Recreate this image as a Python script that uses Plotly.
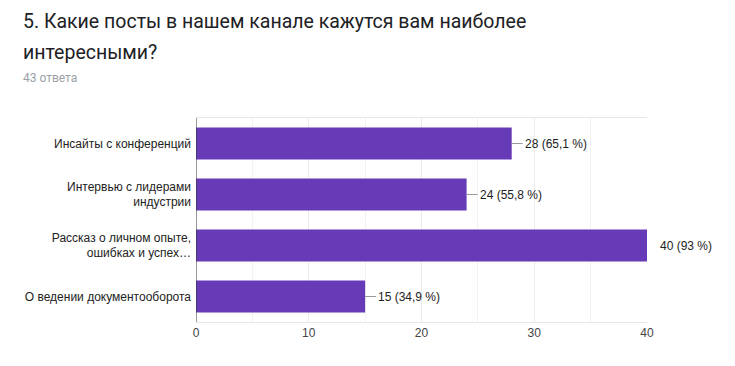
import plotly.graph_objects as go

categories = [
    "Инсайты с конференций",
    "Интервью с лидерами<br>индустрии",
    "Рассказ о личном опыте,<br>ошибках и успех…",
    "О ведении документооборота",
]
counts = [28, 24, 40, 15]
percents = ["65,1 %", "55,8 %", "93 %", "34,9 %"]
tick_vals = [0, 10, 20, 30, 40]
title_lines = ["5. Какие посты в нашем канале кажутся вам наиболее", "интересными?"]
subtitle = "43 ответа"

OFF = 8  # page body margin
W, H = 735 - OFF, 366 - OFF
L, R, T, B = 196 - OFF, 88, 118 - OFF, 44
pw, ph = W - L - R, H - T - B

def px_x(p):
    return (p - OFF - L) / pw

def px_y(p):
    return 1 - (p - OFF - T) / ph

fig = go.Figure()
fig.add_trace(go.Bar(
    x=counts, y=categories, orientation="h",
    marker=dict(color="#673ab7", line=dict(width=0)),
    hoverinfo="skip",
))

xmax = 40
for c, p, cat in zip(counts, percents, categories):
    if c < xmax:
        fig.add_shape(type="line", xref="x", yref="y",
                      xsizemode="pixel", xanchor=c, x0=0, x1=11,
                      y0=cat, y1=cat,
                      line=dict(color="#999999", width=1))
    fig.add_annotation(x=c, y=cat, xref="x", yref="y",
                       text=f"{c} ({p})", showarrow=False,
                       xanchor="left", xshift=11,
                       font=dict(family="Liberation Sans, Arial", size=12, color="#222222"))

fig.add_annotation(xref="paper", yref="paper", x=px_x(21), y=px_y(22),
                   text=title_lines[0], showarrow=False, xanchor="left", yanchor="middle",
                   font=dict(family="Roboto", size=19.5, color="#202124"))
fig.add_annotation(xref="paper", yref="paper", x=px_x(21), y=px_y(52),
                   text=title_lines[1], showarrow=False, xanchor="left", yanchor="middle",
                   font=dict(family="Roboto", size=19.5, color="#202124"))
fig.add_annotation(xref="paper", yref="paper", x=px_x(21), y=px_y(78),
                   text=subtitle, showarrow=False, xanchor="left", yanchor="middle",
                   font=dict(family="Roboto", size=12, color="#9aa0a6"))

fig.update_layout(
    width=W, height=H,
    margin=dict(l=L, r=R, t=T, b=B, pad=0),
    paper_bgcolor="white", plot_bgcolor="white",
    bargap=0.37, showlegend=False,
    xaxis=dict(range=[0, xmax], tickvals=tick_vals,
               showgrid=True, gridcolor="#ebebeb", gridwidth=1,
               minor=dict(dtick=5, showgrid=True, gridcolor="#f2f2f2", gridwidth=1),
               zeroline=False, showline=True, linecolor="#e6e6e6", mirror=True,
               ticks="", ticklen=0,
               tickfont=dict(family="Liberation Sans, Arial", size=12, color="#444444"),
               fixedrange=True),
    yaxis=dict(autorange="reversed", showgrid=False, zeroline=False,
               showline=False, ticks="", ticklabelstandoff=4,
               tickfont=dict(family="Liberation Sans, Arial", size=12, color="#222222"),
               fixedrange=True),
)
fig.add_shape(type="line", xref="x", yref="paper", x0=0, x1=0, y0=0, y1=1,
              line=dict(color="#333333", width=1), layer="above")

fig.write_html("out.html", config={"displayModeBar": False})
